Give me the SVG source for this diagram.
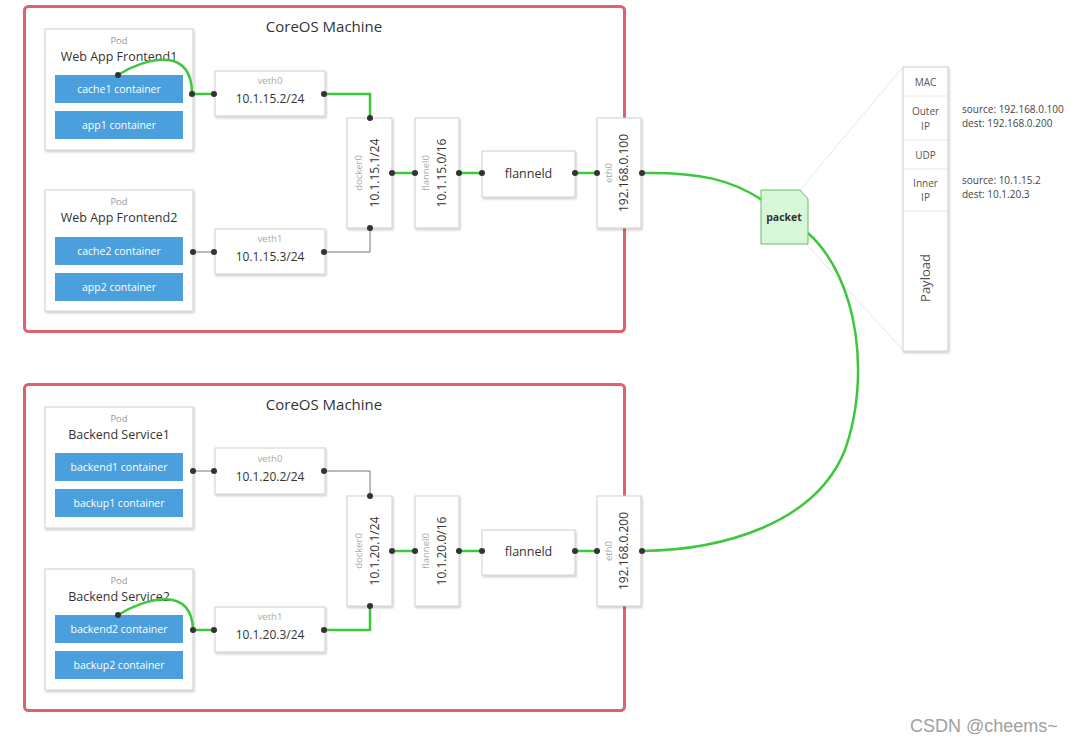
<svg xmlns="http://www.w3.org/2000/svg" width="1077" height="743" viewBox="0 0 1077 743">
<defs>
<filter id="sh" x="-20%" y="-20%" width="140%" height="140%"><feDropShadow dx="1" dy="1.5" stdDeviation="1.2" flood-color="#000" flood-opacity="0.22"/></filter>
<style>
.machine{fill:none;stroke:#e0606e;stroke-width:3}
.box{fill:#fff;stroke:#cfcfcf;stroke-width:1;filter:url(#sh)}
.ctr{fill:#4a9fdc}
.ctrt{font-family:"Open Sans","Noto Sans",sans-serif;font-size:10.5px;fill:#fff;text-anchor:middle}
.title{font-family:"Open Sans","Noto Sans",sans-serif;font-size:15px;fill:#333;text-anchor:middle}
.pod{font-family:"Open Sans","Noto Sans",sans-serif;font-size:9.5px;fill:#999;text-anchor:middle}
.name{font-family:"Open Sans","Noto Sans",sans-serif;font-size:12.5px;fill:#333;text-anchor:middle}
.small{font-family:"Open Sans","Noto Sans",sans-serif;font-size:9.5px;fill:#aaa;text-anchor:middle}
.ip{font-family:"Open Sans","Noto Sans",sans-serif;font-size:12px;fill:#333;text-anchor:middle}
.hdr{font-family:"Open Sans","Noto Sans",sans-serif;font-size:10px;fill:#555;text-anchor:middle}
.side{font-family:"Open Sans","Noto Sans",sans-serif;font-size:10px;fill:#444}
.g{fill:none;stroke:#3cc83c;stroke-width:2.5}
.k{fill:none;stroke:#777;stroke-width:1}
.faint{fill:none;stroke:#d0d0d0;stroke-width:0.8;stroke-dasharray:2 1}
.dot{fill:#333}
</style>
</defs>
<rect width="1077" height="743" fill="#fff"/>

<!-- machines -->
<g id="machine1">
<rect class="machine" x="24.5" y="6.5" width="600" height="325" rx="4"/>
<text class="title" x="324" y="32">CoreOS Machine</text>
</g>
<g id="machine2">
<rect class="machine" x="24.5" y="384.5" width="600" height="326" rx="4"/>
<text class="title" x="324" y="410">CoreOS Machine</text>
</g>

<!-- faint packet expansion lines -->
<g id="expansion">
<line class="faint" x1="800" y1="190" x2="903" y2="67"/>
<line class="faint" x1="806" y1="244" x2="903" y2="350"/>
</g>

<!-- top machine nodes -->
<g id="pod1">
<rect class="box" x="45" y="29" width="148" height="121"/>
<text class="pod" x="119" y="44">Pod</text>
<text class="name" x="119" y="61">Web App Frontend1</text>
<rect class="ctr" x="55" y="75" width="128" height="28"/>
<text class="ctrt" x="119" y="93">cache1 container</text>
<rect class="ctr" x="55" y="111" width="128" height="28"/>
<text class="ctrt" x="119" y="129">app1 container</text>
</g>
<g id="pod2">
<rect class="box" x="45" y="190" width="148" height="121"/>
<text class="pod" x="119" y="205">Pod</text>
<text class="name" x="119" y="222">Web App Frontend2</text>
<rect class="ctr" x="55" y="237" width="128" height="28"/>
<text class="ctrt" x="119" y="255">cache2 container</text>
<rect class="ctr" x="55" y="273" width="128" height="28"/>
<text class="ctrt" x="119" y="291">app2 container</text>
</g>
<g id="veth0-top">
<rect class="box" x="215" y="71" width="110" height="45"/>
<text class="small" x="270" y="84">veth0</text>
<text class="ip" x="270" y="103">10.1.15.2/24</text>
</g>
<g id="veth1-top">
<rect class="box" x="215" y="229" width="110" height="45"/>
<text class="small" x="270" y="242">veth1</text>
<text class="ip" x="270" y="261">10.1.15.3/24</text>
</g>
<g id="docker0-top">
<rect class="box" x="347" y="118" width="45" height="110"/>
<text class="small" transform="translate(361.5,173) rotate(-90)">docker0</text>
<text class="ip" transform="translate(378.5,173) rotate(-90)">10.1.15.1/24</text>
</g>
<g id="flannel0-top">
<rect class="box" x="415" y="118" width="44" height="110"/>
<text class="small" transform="translate(428.5,173) rotate(-90)">flannel0</text>
<text class="ip" transform="translate(445.5,173) rotate(-90)">10.1.15.0/16</text>
</g>
<g id="flanneld-top">
<rect class="box" x="482" y="151" width="93" height="46"/>
<text class="ip" x="528.5" y="178" style="font-size:12.5px">flanneld</text>
</g>
<g id="eth0-top">
<rect class="box" x="597" y="118" width="44" height="110"/>
<text class="small" transform="translate(611.5,173) rotate(-90)">eth0</text>
<text class="ip" transform="translate(627.5,173) rotate(-90)">192.168.0.100</text>
</g>

<!-- bottom machine nodes -->
<g id="pod3">
<rect class="box" x="45" y="407" width="148" height="121"/>
<text class="pod" x="119" y="422">Pod</text>
<text class="name" x="119" y="439">Backend Service1</text>
<rect class="ctr" x="55" y="453" width="128" height="28"/>
<text class="ctrt" x="119" y="471">backend1 container</text>
<rect class="ctr" x="55" y="489" width="128" height="28"/>
<text class="ctrt" x="119" y="507">backup1 container</text>
</g>
<g id="pod4">
<rect class="box" x="45" y="569" width="148" height="121"/>
<text class="pod" x="119" y="584">Pod</text>
<text class="name" x="119" y="601">Backend Service2</text>
<rect class="ctr" x="55" y="615" width="128" height="28"/>
<text class="ctrt" x="119" y="633">backend2 container</text>
<rect class="ctr" x="55" y="651" width="128" height="28"/>
<text class="ctrt" x="119" y="669">backup2 container</text>
</g>
<g id="veth0-bottom">
<rect class="box" x="215" y="448" width="110" height="46"/>
<text class="small" x="270" y="462">veth0</text>
<text class="ip" x="270" y="481">10.1.20.2/24</text>
</g>
<g id="veth1-bottom">
<rect class="box" x="215" y="607" width="110" height="45"/>
<text class="small" x="270" y="620">veth1</text>
<text class="ip" x="270" y="639">10.1.20.3/24</text>
</g>
<g id="docker0-bottom">
<rect class="box" x="347" y="496" width="45" height="110"/>
<text class="small" transform="translate(361.5,551) rotate(-90)">docker0</text>
<text class="ip" transform="translate(378.5,551) rotate(-90)">10.1.20.1/24</text>
</g>
<g id="flannel0-bottom">
<rect class="box" x="415" y="496" width="44" height="110"/>
<text class="small" transform="translate(428.5,551) rotate(-90)">flannel0</text>
<text class="ip" transform="translate(445.5,551) rotate(-90)">10.1.20.0/16</text>
</g>
<g id="flanneld-bottom">
<rect class="box" x="482" y="530" width="93" height="45"/>
<text class="ip" x="528.5" y="556" style="font-size:12.5px">flanneld</text>
</g>
<g id="eth0-bottom">
<rect class="box" x="597" y="496" width="44" height="110"/>
<text class="small" transform="translate(611.5,551) rotate(-90)">eth0</text>
<text class="ip" transform="translate(627.5,551) rotate(-90)">192.168.0.200</text>
</g>

<!-- packet header stack -->
<g id="header-stack">
<rect class="box" x="903" y="67" width="45" height="284"/>
<g stroke="#e8e8e8" stroke-width="1">
<line x1="904" y1="96" x2="947" y2="96"/>
<line x1="904" y1="140" x2="947" y2="140"/>
<line x1="904" y1="169" x2="947" y2="169"/>
<line x1="904" y1="211" x2="947" y2="211"/>
</g>
<text class="hdr" x="925.5" y="86">MAC</text>
<text class="hdr" x="925.5" y="115">Outer</text>
<text class="hdr" x="925.5" y="130">IP</text>
<text class="hdr" x="925.5" y="159">UDP</text>
<text class="hdr" x="925.5" y="187">Inner</text>
<text class="hdr" x="925.5" y="201">IP</text>
<text class="hdr" style="font-size:13px" transform="translate(930,278) rotate(-90)">Payload</text>
</g>
<g id="header-notes">
<text class="side" x="962" y="113">source: 192.168.0.100</text>
<text class="side" x="962" y="127">dest: 192.168.0.200</text>
<text class="side" x="962" y="184">source: 10.1.15.2</text>
<text class="side" x="962" y="198">dest: 10.1.20.3</text>
</g>

<!-- connectors -->
<g id="connectors">
<path class="g" d="M118,75 C145,58 192,45 192,94 L214,94"/>
<path class="g" d="M324,94 H370 V118"/>
<path class="k" d="M193,252 H214"/>
<path class="k" d="M324,252 H370 V228"/>
<path class="g" d="M392,173 H415 M459,173 H482 M575,173 H597"/>
<path class="g" d="M642,173 C700,172 732,180 762,200"/>
<path class="g" d="M808,233 C860,280 870,380 845,450 C815,525 720,550 642,551"/>
<path class="k" d="M193,471 H214"/>
<path class="k" d="M324,471 H370 V496"/>
<path class="g" d="M118,615 C145,598 192,585 193,630 L214,630"/>
<path class="g" d="M324,630 H370 V606"/>
<path class="g" d="M392,551 H415 M459,551 H482 M575,551 H597"/>
<g class="dot">
<circle cx="118" cy="75" r="3"/><circle cx="192" cy="94" r="3"/><circle cx="214" cy="94" r="3"/><circle cx="324" cy="94" r="3"/>
<circle cx="370" cy="118" r="3"/><circle cx="370" cy="228" r="3"/><circle cx="193" cy="252" r="3"/><circle cx="214" cy="252" r="3"/><circle cx="324" cy="252" r="3"/>
<circle cx="392" cy="173" r="3"/><circle cx="415" cy="173" r="3"/><circle cx="459" cy="173" r="3"/><circle cx="482" cy="173" r="3"/><circle cx="575" cy="173" r="3"/><circle cx="597" cy="173" r="3"/><circle cx="642" cy="173" r="3"/>
<circle cx="193" cy="471" r="3"/><circle cx="214" cy="471" r="3"/><circle cx="324" cy="471" r="3"/><circle cx="370" cy="496" r="3"/><circle cx="370" cy="606" r="3"/>
<circle cx="118" cy="615" r="3"/><circle cx="193" cy="630" r="3"/><circle cx="214" cy="630" r="3"/><circle cx="324" cy="630" r="3"/>
<circle cx="392" cy="551" r="3"/><circle cx="415" cy="551" r="3"/><circle cx="459" cy="551" r="3"/><circle cx="482" cy="551" r="3"/><circle cx="575" cy="551" r="3"/><circle cx="597" cy="551" r="3"/><circle cx="642" cy="551" r="3"/>
</g>
</g>

<g id="packet">
<path d="M761,190 H800 L808,199 V244 H761 Z" fill="#d8f6d8" stroke="#5cc25c" stroke-width="1"/>
<text x="784" y="221" style="font-family:'Open Sans','Noto Sans',sans-serif;font-size:10.5px;font-weight:bold;fill:#333;text-anchor:middle">packet</text>
</g>

<text x="910" y="732" style="font-family:'Liberation Sans',Arial,sans-serif;font-size:18px;fill:#a0a0a0">CSDN @cheems~</text>
</svg>
